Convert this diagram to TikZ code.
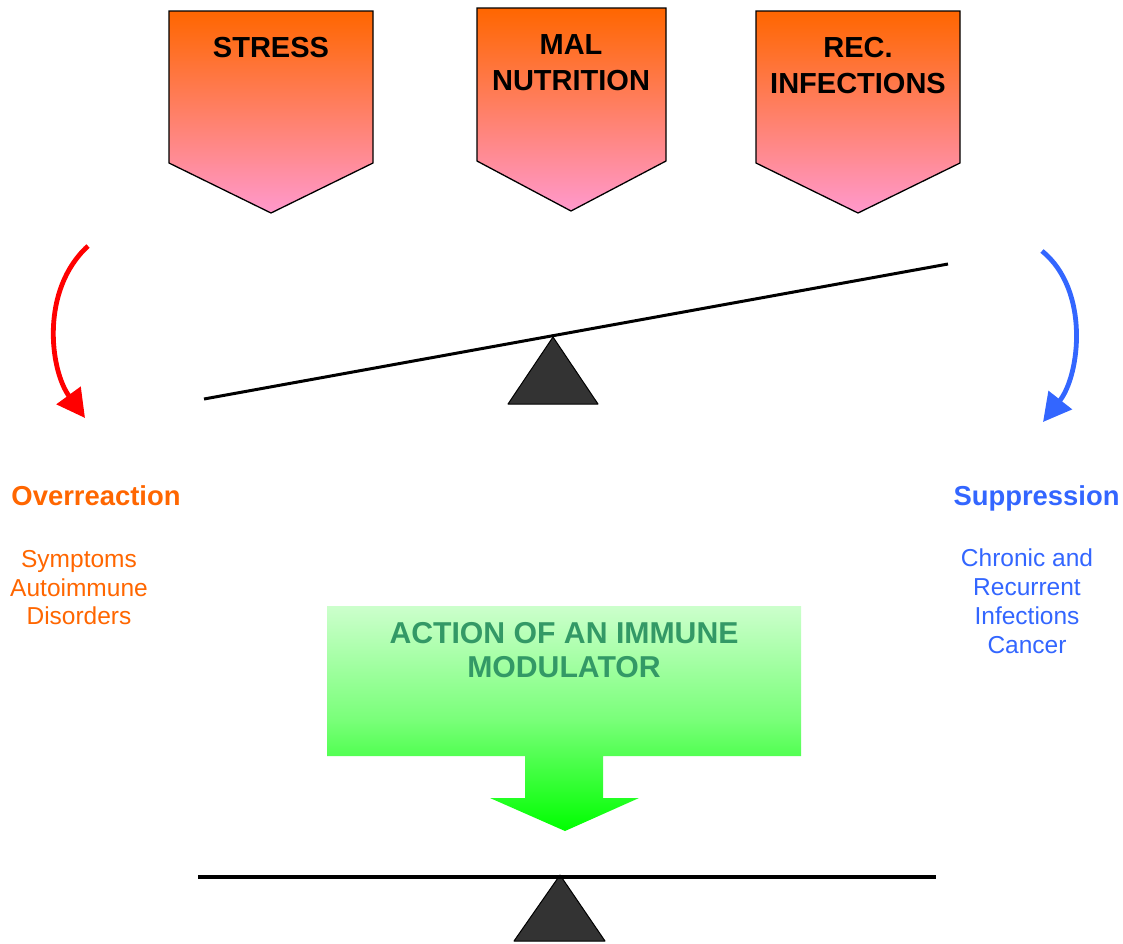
\documentclass[tikz,border=0pt]{standalone}
\usepackage{fontspec}
\setmainfont{Liberation Sans}
\usetikzlibrary{arrows.meta}
\definecolor{orangeT}{HTML}{FF6600}
\definecolor{pinkB}{HTML}{FF99CC}
\definecolor{blueT}{HTML}{3366FF}
\definecolor{greenT}{HTML}{339966}
\definecolor{greenTop}{HTML}{CCFFCC}
\definecolor{greenBot}{HTML}{00FF00}
\definecolor{fulcrum}{HTML}{333333}
\tikzset{
  stressbox/.style={draw=black, line width=1.3pt, top color=orangeT, bottom color=pinkB},
  toptext/.style={font=\fontsize{29}{36}\selectfont\bfseries, align=center, anchor=north, inner sep=0pt},
  headtext/.style={font=\fontsize{27.4}{30}\selectfont\bfseries, anchor=north, inner sep=0pt},
  subtext/.style={font=\fontsize{24.5}{28.8}\selectfont, align=center, anchor=north, inner sep=0pt},
  beam/.style={line width=3pt, black},
  fulc/.style={fill=fulcrum, draw=black, line width=1pt, line join=round},
  curvearrow/.style={line width=4.8pt, -{Triangle[length=28pt,width=29pt]}},
}
\begin{document}
\begin{tikzpicture}[x=1pt,y=-1pt]
\useasboundingbox (0,0) rectangle (1123,943);
% top pentagons
\draw[stressbox] (169,11) -- (373,11) -- (373,163) -- (271,213) -- (169,163) -- cycle;
\draw[stressbox] (477,8) -- (666,8) -- (666,161) -- (571,211) -- (477,161) -- cycle;
\draw[stressbox] (756,11) -- (960,11) -- (960,163) -- (858,213) -- (756,163) -- cycle;
\node[toptext] (stress) at (271,37) {STRESS};
\node[toptext] (mal) at (571,34) {MAL\\NUTRITION};
\node[toptext] (rec) at (858,37) {REC.\\INFECTIONS};
% tilted seesaw
\coordinate (bl) at (204,399);
\coordinate (br) at (948,264);
\draw[fulc] (553,337) -- (598,404) -- (508,404) -- cycle;
\draw[beam] (bl) -- (br);
% curved arrows
\coordinate (rs) at (88,246);
\coordinate (re) at (85,418);
\draw[curvearrow, red] (rs) .. controls (40,290) and (50,370) .. (re);
\coordinate (bs) at (1042,251);
\coordinate (be) at (1043,422);
\draw[curvearrow, blueT] (bs) .. controls (1090,290) and (1080,375) .. (be);
% side texts
\node[headtext, text=orangeT] (over) at (96,485.5) {Overreaction};
\node[subtext, text=orangeT] (symp) at (79,550) {Symptoms\\Autoimmune\\Disorders};
\node[headtext, text=blueT] (supp) at (1036.5,485.5) {Suppression};
\node[subtext, text=blueT] (chron) at (1027,549) {Chronic and\\Recurrent\\Infections\\Cancer};
% green arrow
\shade[top color=greenTop, bottom color=greenBot, middle color=green!40!greenTop]
  (327,606) -- (801,606) -- (801,756) -- (603,756) -- (603,798) -- (639,798)
  -- (565,831) -- (490,798) -- (525,798) -- (525,756) -- (327,756) -- cycle;
\node[toptext, text=greenT, font=\fontsize{30.2}{34}\selectfont\bfseries] (action) at (564,622) {ACTION OF AN IMMUNE\\MODULATOR};
% balanced seesaw
\coordinate (cl) at (198,877);
\coordinate (cr) at (936,877);
\draw[fulc] (560,875) -- (605,941) -- (514,941) -- cycle;
\draw[beam, line width=4pt] (cl) -- (cr);
\end{tikzpicture}
\end{document}
